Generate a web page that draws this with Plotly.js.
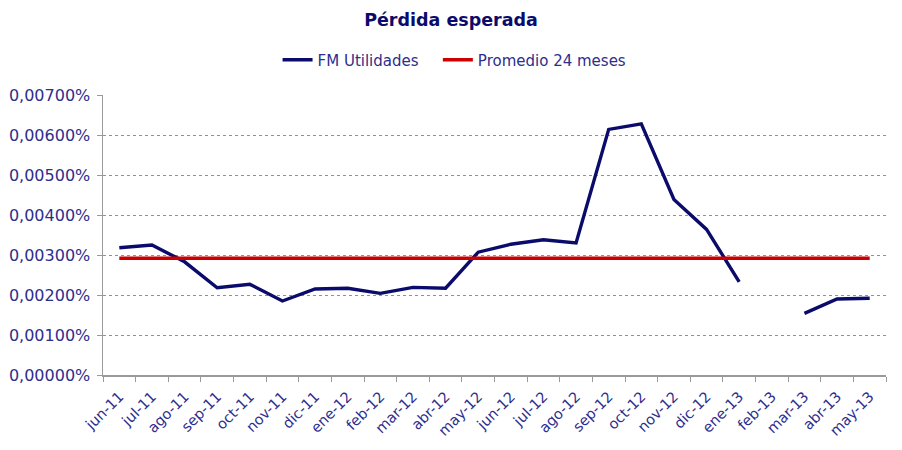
<!DOCTYPE html>
<html>
<head>
<meta charset="utf-8">
<script src="https://cdn.plot.ly/plotly-3.0.1.min.js"></script>
<style>html,body{margin:0;padding:0;background:#fff;}#chart{width:902px;height:450px;}</style>
</head>
<body>
<div id="chart"></div>
<script>
var months = ["jun-11","jul-11","ago-11","sep-11","oct-11","nov-11","dic-11","ene-12","feb-12","mar-12","abr-12","may-12","jun-12","jul-12","ago-12","sep-12","oct-12","nov-12","dic-12","ene-13","feb-13","mar-13","abr-13","may-13"];
var fmUtilidades = [0.00318,0.00325,0.00283,0.00218,0.00227,0.00185,0.00215,0.00217,0.00204,0.00219,0.00217,0.00307,0.00327,0.00338,0.00330,0.00614,0.00628,0.00439,0.00364,0.00233,null,0.00154,0.00190,0.00192];
var promedio24 = [0.00292,0.00292,0.00292,0.00292,0.00292,0.00292,0.00292,0.00292,0.00292,0.00292,0.00292,0.00292,0.00292,0.00292,0.00292,0.00292,0.00292,0.00292,0.00292,0.00292,0.00292,0.00292,0.00292,0.00292];
var yTicks = [0,0.001,0.002,0.003,0.004,0.005,0.006,0.007];
var yTickText = yTicks.map(function(v){ return v.toFixed(5).replace('.', ',') + '%'; });

var font = "Verdana, 'DejaVu Sans', sans-serif";
var txt = '#2e2e8c';
var traces = [
  {x: months, y: fmUtilidades, type: 'scatter', mode: 'lines', name: 'FM Utilidades\u00a0\u00a0\u00a0',
   line: {color: '#0b0b6b', width: 3.4}, connectgaps: false},
  {x: months, y: promedio24, type: 'scatter', mode: 'lines', name: 'Promedio 24 meses',
   line: {color: '#cc0000', width: 3.4}}
];
var layout = {
  width: 902, height: 450,
  margin: {l: 103, r: 16, t: 95, b: 75},
  paper_bgcolor: '#fff', plot_bgcolor: '#fff',
  font: {family: font, color: txt, size: 14},
  title: {text: '<b>Pérdida esperada</b>', x: 0.5, xanchor: 'center', y: 0.955, yanchor: 'middle',
          font: {family: font, size: 17.5, color: '#0b0b6b'}},
  showlegend: true,
  legend: {orientation: 'h', x: 0.449, xanchor: 'center', y: 1.125, yanchor: 'middle',
           font: {family: font, size: 15, color: txt}, itemwidth: 30, tracegroupgap: 0},
  xaxis: {type: 'category', categoryarray: months, range: [-0.5, 23.5],
          showline: true, linecolor: '#9a9a9a', linewidth: 1.5,
          ticks: 'outside', tickson: 'boundaries', ticklen: 5, tickcolor: '#9a9a9a',
          ticklabelstandoff: 6,
          tickangle: -45, tickfont: {family: font, size: 14.5, color: txt},
          showgrid: false, zeroline: false, fixedrange: true, automargin: false},
  yaxis: {range: [0, 0.007], tickmode: 'array', tickvals: yTicks, ticktext: yTickText,
          showline: true, linecolor: '#9a9a9a', linewidth: 1.5,
          ticks: 'outside', ticklen: 5, tickcolor: '#9a9a9a', ticklabelstandoff: 3,
          showgrid: true, gridcolor: '#909090', gridwidth: 1, griddash: 'dot',
          zeroline: false, tickfont: {family: font, size: 16, color: txt}, fixedrange: true, automargin: false}
};
Plotly.newPlot('chart', traces, layout, {displayModeBar: false, staticPlot: true});
</script>
</body>
</html>
